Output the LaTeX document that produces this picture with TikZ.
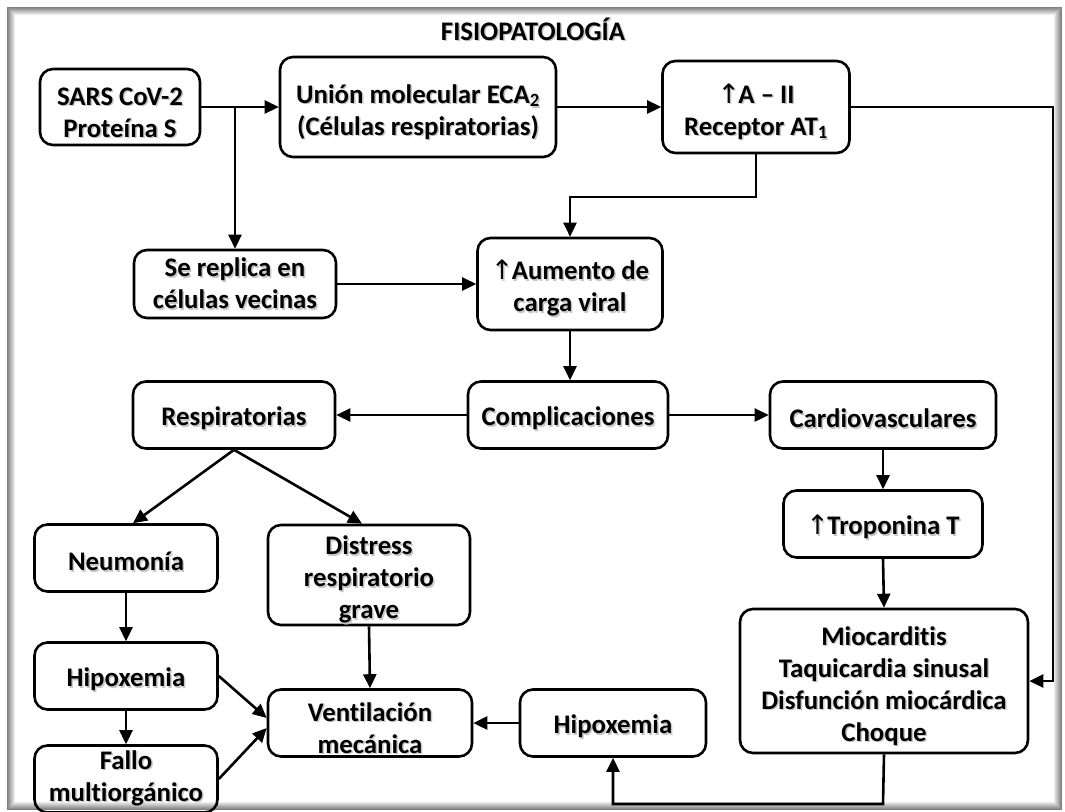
\documentclass[tikz,border=0pt]{standalone}
\usepackage{fontspec}
\setmainfont{Carlito}[Ligatures=NoCommon]
\newfontfamily\symfont{DejaVu Sans}
\usetikzlibrary{arrows.meta,calc}
\newcommand\shd[1]{\leavevmode\rlap{\kern1.5pt\raisebox{-1.5pt}{\textcolor{black!22}{#1}}}#1}
\newcommand\upar{{\symfont\mdseries ↑}\kern-1.5pt}
\newcommand\fl{\rule{0pt}{30pt}}
\begin{document}
\begin{tikzpicture}[x=1pt,y=-1pt,
  box/.style={draw, line width=2.6pt, rounded corners=13pt, align=center,
    font=\fontsize{26.8}{32}\selectfont\bfseries, inner sep=0pt,
    execute at begin node={\rule{0pt}{27pt}}},
  arr/.style={line width=2.6pt, -{Triangle[length=14pt,width=13pt]}},
  ttl/.style={font=\fontsize{26.8}{30}\selectfont\bfseries, inner sep=0pt}]
\fill[white] (0,0) rectangle (1065,811);
\useasboundingbox (0,0) rectangle (1065,811);
\foreach \i [evaluate=\i as \g using 50-6*\i] in {0,...,7}
  \draw[black!\g, line width=1pt] (7.5+\i,7.5+\i) rectangle (1061.5-\i,809.5-\i);

\node[ttl] (title) at (533,30) {\shd{FISIOPATOLOGÍA}};

\node[box, minimum width=160pt, minimum height=76pt] (sars) at (120,107) {\fl\shd{SARS CoV-2}\\\shd{Proteína S}};
\node[box, minimum width=276pt, minimum height=100pt] (union) at (418,107) {\fl\shd{Unión molecular ECA\textsubscript{2}}\\\shd{(Células respiratorias)}};
\node[box, minimum width=187pt, minimum height=92pt] (aii) at (756,107) {\fl\shd{\upar A – II}\\\shd{Receptor AT\textsubscript{1}}};
\node[box, minimum width=202pt, minimum height=68pt] (rep) at (235,284) {\shd{Se replica en}\\\shd{células vecinas}};
\node[box, minimum width=185pt, minimum height=92pt] (aum) at (570,284) {\fl\shd{\upar Aumento de}\\\shd{carga viral}};
\node[box, minimum width=202pt, minimum height=67pt] (resp) at (234,415) {\shd{Respiratorias}};
\node[box, minimum width=200pt, minimum height=67pt] (comp) at (568,415) {\shd{Complicaciones}};
\node[box, minimum width=226pt, minimum height=67pt] (card) at (883,415) {\shd{Cardiovasculares}};
\node[box, minimum width=199pt, minimum height=67pt] (trop) at (883,524) {\shd{\upar Troponina T}};
\node[box, minimum width=183pt, minimum height=67pt] (neu) at (126,558) {\shd{Neumonía}};
\node[box, minimum width=202pt, minimum height=100pt] (dist) at (369,575) {\fl\shd{Distress}\\\shd{respiratorio}\\\shd{grave}};
\node[box, minimum width=183pt, minimum height=67pt] (hipl) at (126,676) {\shd{Hipoxemia}};
\node[box, minimum width=183pt, minimum height=67pt] (fallo) at (126,779) {\shd{Fallo}\\\shd{multiorgánico}};
\node[box, minimum width=204pt, minimum height=67pt] (vent) at (370,723) {\fl\shd{Ventilación}\\\shd{mecánica}};
\node[box, minimum width=186pt, minimum height=67pt] (hipr) at (613,723) {\shd{Hipoxemia}};
\node[box, minimum width=288pt, minimum height=144pt] (mio) at (884,681) {\fl\shd{Miocarditis}\\\shd{Taquicardia sinusal}\\\shd{Disfunción miocárdica}\\\shd{Choque}};

\coordinate (j1) at (235,107);
\coordinate (c1) at (1053,107);
\coordinate (c2) at (570,197);
\coordinate (c3) at (883,804);

\draw[arr] (sars.east) -- (union.west);
\draw[arr] (j1) -- (rep.north);
\draw[arr] (union.east) -- (aii.west);
\draw[arr] (aii.east) -- (c1) |- (mio.east);
\draw[arr] (aii.south) |- (c2) -- (aum.north);
\draw[arr] (rep.east) -- (aum.west);
\draw[arr] (aum.south) -- (aum.south |- comp.north);
\draw[arr] (comp.west) -- (resp.east);
\draw[arr] (comp.east) -- (card.west);
\draw[arr] (card.south) -- (trop.north);
\draw[arr] (trop.south) -- (mio.north);
\draw[arr] (resp.south) -- ($(neu.north)+(7,0)$);
\draw[arr] (resp.south) -- ($(dist.north)+(-7,0)$);
\draw[arr] (neu.south) -- (hipl.north);
\draw[arr] (hipl.south) -- (fallo.north);
\draw[arr] (hipl.east) -- ($(vent.west)+(0,-5)$);
\draw[arr] (fallo.east) -- ($(vent.west)+(0,5)$);
\draw[arr] (dist.south) -- (vent.north);
\draw[arr] (hipr.west) -- (vent.east);
\draw[arr] (mio.south) -- (c3) -| (hipr.south);
\end{tikzpicture}
\end{document}
